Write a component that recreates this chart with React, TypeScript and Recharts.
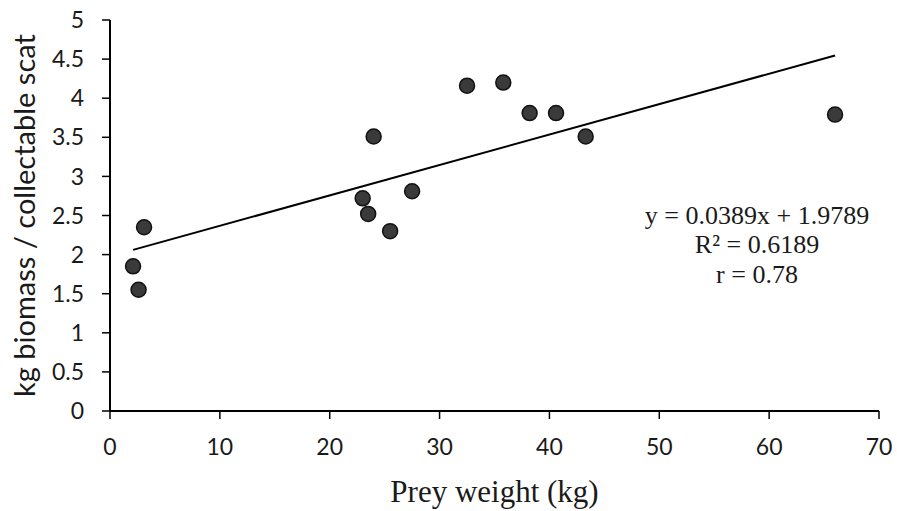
import React from 'react';
import { ScatterChart, Scatter, XAxis, YAxis, Customized } from 'recharts';

const preyWeight = [2.1, 2.6, 3.1, 23.0, 23.5, 24.0, 25.5, 27.5, 32.5, 35.8, 38.2, 40.6, 43.3, 66.0];
const biomassPerScat = [1.85, 1.55, 2.35, 2.72, 2.52, 3.51, 2.30, 2.81, 4.16, 4.20, 3.81, 3.81, 3.51, 3.79];

const slope = 0.0389;
const intercept = 1.9789;
const trendX = [2.1, 66.0];

const xTicks = [0, 10, 20, 30, 40, 50, 60, 70];
const yTicks = [0, 0.5, 1, 1.5, 2, 2.5, 3, 3.5, 4, 4.5, 5];

const equationLines = ['y = 0.0389x + 1.9789', 'R² = 0.6189', 'r = 0.78'];

const points = preyWeight.map((x, i) => ({ x, y: biomassPerScat[i] }));
const trend = trendX.map((x) => ({ x, y: slope * x + intercept }));

const tickFont = { fontFamily: 'Lato, "Open Sans", sans-serif', fontSize: 23, fill: '#1a1a1a' };

const Dot = (props: any) => {
  const { cx, cy } = props;
  if (cx == null || cy == null) return <g />;
  return <circle cx={cx} cy={cy} r={7.5} fill="#3a3a3a" stroke="#111" strokeWidth={1.5} />;
};

const NoDot = () => <g />;

const YLabel = () => {
  const cy = 215.5;
  const cx = 23;
  return (
    <text
      x={cx}
      y={cy}
      transform={`rotate(-90, ${cx}, ${cy})`}
      textAnchor="middle"
      dominantBaseline="central"
      style={{ fontFamily: 'Lato, "Open Sans", sans-serif', fontSize: 29, fill: '#1a1a1a' }}
    >
      kg biomass / collectable scat
    </text>
  );
};

const XLabel = (props: any) => {
  const vb = props.viewBox || { x: 110, width: 769 };
  return (
    <text
      x={vb.x + vb.width / 2}
      y={502}
      textAnchor="middle"
      style={{ fontFamily: '"Liberation Serif", "Times New Roman", serif', fontSize: 31, fill: '#1a1a1a' }}
    >
      Prey weight (kg)
    </text>
  );
};

const Equation = () => {
  const baselines = [224, 253, 283];
  return (
    <g>
      {equationLines.map((t, i) => (
        <text
          key={i}
          x={757}
          y={baselines[i]}
          textAnchor="middle"
          style={{ fontFamily: '"Liberation Serif", "Times New Roman", serif', fontSize: 26, fill: '#1a1a1a' }}
        >
          {t}
        </text>
      ))}
    </g>
  );
};

export default function App() {
  return (
    <div style={{ position: 'absolute', left: 0, top: 0, background: '#fff' }}>
      <ScatterChart width={897} height={511} margin={{ top: 20, right: 18, bottom: 0, left: 0 }}>
        <XAxis
          type="number"
          dataKey="x"
          domain={[0, 70]}
          ticks={xTicks}
          interval={0}
          height={100}
          axisLine={{ stroke: '#000', strokeWidth: 2 }}
          tickLine={{ stroke: '#000', strokeWidth: 1.5 }}
          tickSize={8}
          tickMargin={20}
          tick={tickFont}
          allowDataOverflow
          label={<XLabel />}
        />
        <YAxis
          type="number"
          dataKey="y"
          domain={[0, 5]}
          ticks={yTicks}
          interval={0}
          width={110}
          axisLine={{ stroke: '#000', strokeWidth: 2 }}
          tickLine={{ stroke: '#000', strokeWidth: 1.5 }}
          tickSize={8}
          tickMargin={18}
          tick={tickFont}
          allowDataOverflow
          label={<YLabel />}
        />
        <Scatter data={trend} line={{ stroke: '#000', strokeWidth: 2 }} shape={NoDot} isAnimationActive={false} legendType="none" />
        <Scatter data={points} shape={Dot} isAnimationActive={false} />
        <Customized component={Equation} />
      </ScatterChart>
    </div>
  );
}
